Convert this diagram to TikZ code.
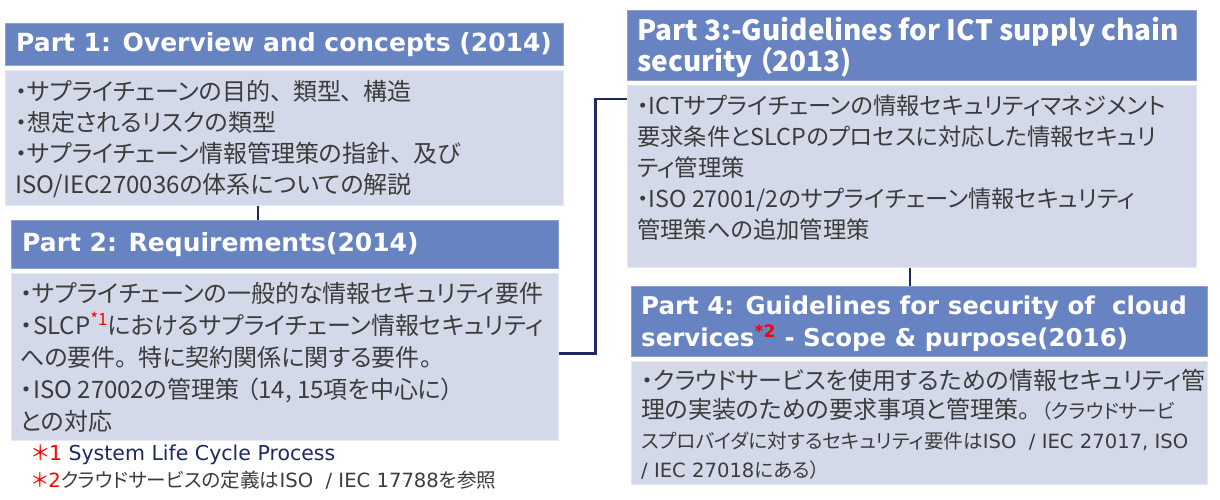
\documentclass[tikz,border=0pt]{standalone}
\usepackage{fontspec}
\setmainfont{DejaVu Sans}
\newfontfamily\jp[RawFeature=+palt]{Noto Sans CJK JP}
\newfontfamily\dv{DejaVu Sans}
\definecolor{hdr}{HTML}{6783C1}
\definecolor{bdy}{HTML}{D4D9E9}
\definecolor{txt}{HTML}{3C3C3C}
\definecolor{navy}{HTML}{1C2A5E}
\newcommand\pk{\kern0.45em}
\begin{document}
\begin{tikzpicture}[x=1pt,y=-1pt,
  hbox/.style={fill=hdr, draw=hdr!75!white, line width=0.8pt, anchor=north west, inner sep=0pt},
  bbox/.style={fill=bdy, draw=bdy!60!white, line width=0.8pt, anchor=north west, inner sep=0pt},
  htext/.style={anchor=west, align=left, inner sep=0pt, text=white},
  btext/.style={anchor=west, align=left, inner sep=0pt, text=txt},
  conn/.style={draw=navy, line width=2.8pt},
  vfont/.style={font=\dv\bfseries\fontsize{25}{31}\selectfont},
  jfont/.style={font=\jp\fontsize{24}{31}\selectfont}
]
\fill[white] (0,0) rectangle (1220,500);
\useasboundingbox (0,0) rectangle (1220,500);

% Part 1
\node[hbox, minimum width=558pt, minimum height=42pt] (p1h) at (5,23) {};
\node[htext, vfont] (p1ht) at ([xshift=11pt]p1h.west) {Part 1: Overview and concepts (2014)};
\node[bbox, minimum width=558pt, minimum height=135pt] (p1b) at (5,70) {};
\node[btext, jfont] (p1bt) at ([xshift=10pt,yshift=-1.5pt]p1b.west) {・サプライチェーンの目的、\pk 類型、\pk 構造\\
・想定されるリスクの類型\\
・サプライチェーン情報管理策の指針、\pk 及び\\
ISO/IEC270036の体系についての解説};

% Part 2
\node[hbox, minimum width=547pt, minimum height=48pt] (p2h) at (11,220) {};
\node[htext, vfont] (p2ht) at ([xshift=11pt]p2h.west) {Part 2: Requirements(2014)};
\node[bbox, minimum width=547pt, minimum height=167pt] (p2b) at (11,273) {};
\node[btext, font=\jp\fontsize{24}{32}\selectfont] (p2bt) at ([xshift=9pt]p2b.west) {・サプライチェーンの一般的な情報セキュリティ要件\\
・\kern1pt SLCP\textsuperscript{\textcolor{red}{*1}}におけるサプライチェーン情報セキュリティ\\
への要件。\pk 特に契約関係に関する要件。\\
・\kern1pt ISO 27002の管理策\kern0.3em（14, 15項を中心に）\\
との対応};

% footnotes
\node[btext, font=\dv\fontsize{20.5}{24}\selectfont] (fn1) at (32,455) {\textcolor{red}{{\jp ＊}1} \textcolor{navy}{System Life Cycle Process}};
\node[btext, font=\dv\fontsize{19.6}{24}\selectfont] (fn2) at (32,480) {\textcolor{red}{{\jp ＊}2}{\jp クラウドサービスの定義は}ISO\ \ / IEC 17788{\jp を参照}};

% Part 3
\node[hbox, minimum width=569pt, minimum height=70pt] (p3h) at (627,10) {};
\node[htext, font=\jp\bfseries\fontsize{28}{30}\selectfont] (p3ht) at ([xshift=10pt,yshift=-2pt]p3h.west) {Part 3:-Guidelines for ICT supply chain\\
security\kern0.2em（2013)};
\node[bbox, minimum width=569pt, minimum height=182pt] (p3b) at (627,85) {};
\node[btext, font=\jp\fontsize{23.3}{31}\selectfont] (p3bt) at ([xshift=10pt,yshift=9pt]p3b.west) {・ICTサプライチェーンの情報セキュリティマネジメント\\
要求条件とSLCPのプロセスに対応した情報セキュリ\\
ティ管理策\\
・ISO 27001/2のサプライチェーン情報セキュリティ\\
管理策への追加管理策};

% Part 4
\node[hbox, minimum width=576pt, minimum height=70pt] (p4h) at (631,286) {};
\node[htext, font=\dv\bfseries\fontsize{24.5}{32}\selectfont] (p4ht) at ([xshift=10pt,yshift=-2pt]p4h.west) {Part 4: Guidelines for security of\ \ cloud\\
services\textsuperscript{\textcolor{red}{*2}} - Scope \& purpose(2016)};
\node[bbox, minimum width=576pt, minimum height=123pt] (p4b) at (631,361) {};
\node[btext, font=\jp\fontsize{24}{29.5}\selectfont] (p4bt) at ([xshift=10pt,yshift=-1.5pt]p4b.west) {・クラウドサービスを使用するための情報セキュリティ管\\
理の実装のための要求事項と管理策。\pk{\fontsize{19.6}{28}\selectfont（クラウドサービ}\\
{\fontsize{19.6}{28}\selectfont スプロバイダに対するセキュリティ要件は{\dv ISO\ \ / IEC 27017, ISO}}\\
{\fontsize{19.6}{28}\selectfont {\dv / IEC 27018}にある）}};

% connectors
\draw[conn] ([xshift=253pt]p1b.south west) -- ([xshift=247pt]p2h.north west);
\draw[conn] ([xshift=283pt]p3b.south west) -- ([xshift=279pt]p4h.north west);
\draw[conn] ([yshift=3.5pt]p2b.east) -- ++(37,0) |- ([yshift=-14pt]p3b.north west);
\end{tikzpicture}
\end{document}
